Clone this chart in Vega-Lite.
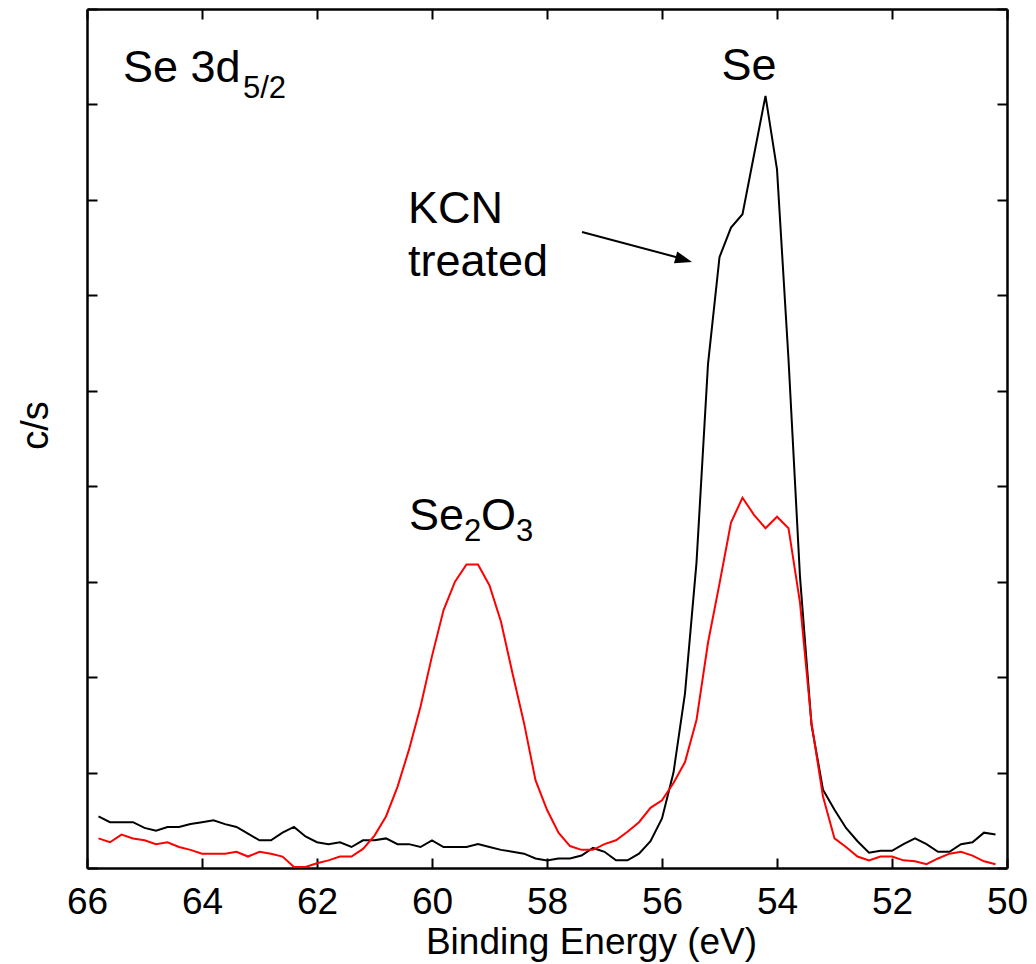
{
  "$schema": "https://vega.github.io/schema/vega-lite/v6.json",
  "width": 920,
  "height": 859,
  "autosize": {"type": "none"},
  "padding": {"left": 87, "top": 9, "right": 29, "bottom": 96},
  "background": "white",
  "config": {
    "font": "Liberation Sans",
    "view": {"stroke": null},
    "axis": {
      "domainColor": "#000000",
      "domainWidth": 2.5,
      "tickColor": "#000000",
      "tickWidth": 2,
      "tickSize": -10,
      "grid": false,
      "labelFont": "Liberation Sans",
      "labelColor": "#000000",
      "titleFont": "Liberation Sans",
      "titleColor": "#000000",
      "titleFontWeight": "normal"
    }
  },
  "datasets": {
    "spectra": [
      {"E": 65.8, "cps": 0.54, "sample": "KCN treated"},
      {"E": 65.6, "cps": 0.48, "sample": "KCN treated"},
      {"E": 65.4, "cps": 0.48, "sample": "KCN treated"},
      {"E": 65.2, "cps": 0.48, "sample": "KCN treated"},
      {"E": 65.0, "cps": 0.42, "sample": "KCN treated"},
      {"E": 64.8, "cps": 0.39, "sample": "KCN treated"},
      {"E": 64.6, "cps": 0.43, "sample": "KCN treated"},
      {"E": 64.4, "cps": 0.43, "sample": "KCN treated"},
      {"E": 64.2, "cps": 0.46, "sample": "KCN treated"},
      {"E": 64.0, "cps": 0.48, "sample": "KCN treated"},
      {"E": 63.8, "cps": 0.50, "sample": "KCN treated"},
      {"E": 63.6, "cps": 0.46, "sample": "KCN treated"},
      {"E": 63.4, "cps": 0.43, "sample": "KCN treated"},
      {"E": 63.2, "cps": 0.36, "sample": "KCN treated"},
      {"E": 63.0, "cps": 0.29, "sample": "KCN treated"},
      {"E": 62.8, "cps": 0.29, "sample": "KCN treated"},
      {"E": 62.6, "cps": 0.37, "sample": "KCN treated"},
      {"E": 62.4, "cps": 0.43, "sample": "KCN treated"},
      {"E": 62.2, "cps": 0.33, "sample": "KCN treated"},
      {"E": 62.0, "cps": 0.27, "sample": "KCN treated"},
      {"E": 61.8, "cps": 0.25, "sample": "KCN treated"},
      {"E": 61.6, "cps": 0.27, "sample": "KCN treated"},
      {"E": 61.4, "cps": 0.22, "sample": "KCN treated"},
      {"E": 61.2, "cps": 0.29, "sample": "KCN treated"},
      {"E": 61.0, "cps": 0.29, "sample": "KCN treated"},
      {"E": 60.8, "cps": 0.31, "sample": "KCN treated"},
      {"E": 60.6, "cps": 0.25, "sample": "KCN treated"},
      {"E": 60.4, "cps": 0.25, "sample": "KCN treated"},
      {"E": 60.2, "cps": 0.22, "sample": "KCN treated"},
      {"E": 60.0, "cps": 0.29, "sample": "KCN treated"},
      {"E": 59.8, "cps": 0.22, "sample": "KCN treated"},
      {"E": 59.6, "cps": 0.22, "sample": "KCN treated"},
      {"E": 59.4, "cps": 0.22, "sample": "KCN treated"},
      {"E": 59.2, "cps": 0.25, "sample": "KCN treated"},
      {"E": 59.0, "cps": 0.22, "sample": "KCN treated"},
      {"E": 58.8, "cps": 0.19, "sample": "KCN treated"},
      {"E": 58.6, "cps": 0.17, "sample": "KCN treated"},
      {"E": 58.4, "cps": 0.15, "sample": "KCN treated"},
      {"E": 58.2, "cps": 0.10, "sample": "KCN treated"},
      {"E": 58.0, "cps": 0.08, "sample": "KCN treated"},
      {"E": 57.8, "cps": 0.10, "sample": "KCN treated"},
      {"E": 57.6, "cps": 0.10, "sample": "KCN treated"},
      {"E": 57.4, "cps": 0.13, "sample": "KCN treated"},
      {"E": 57.2, "cps": 0.21, "sample": "KCN treated"},
      {"E": 57.0, "cps": 0.17, "sample": "KCN treated"},
      {"E": 56.8, "cps": 0.08, "sample": "KCN treated"},
      {"E": 56.6, "cps": 0.08, "sample": "KCN treated"},
      {"E": 56.4, "cps": 0.15, "sample": "KCN treated"},
      {"E": 56.2, "cps": 0.28, "sample": "KCN treated"},
      {"E": 56.0, "cps": 0.52, "sample": "KCN treated"},
      {"E": 55.8, "cps": 1.00, "sample": "KCN treated"},
      {"E": 55.6, "cps": 1.83, "sample": "KCN treated"},
      {"E": 55.4, "cps": 3.20, "sample": "KCN treated"},
      {"E": 55.2, "cps": 5.28, "sample": "KCN treated"},
      {"E": 55.0, "cps": 6.40, "sample": "KCN treated"},
      {"E": 54.8, "cps": 6.71, "sample": "KCN treated"},
      {"E": 54.6, "cps": 6.85, "sample": "KCN treated"},
      {"E": 54.4, "cps": 7.47, "sample": "KCN treated"},
      {"E": 54.2, "cps": 8.09, "sample": "KCN treated"},
      {"E": 54.0, "cps": 7.32, "sample": "KCN treated"},
      {"E": 53.8, "cps": 5.33, "sample": "KCN treated"},
      {"E": 53.6, "cps": 3.05, "sample": "KCN treated"},
      {"E": 53.4, "cps": 1.50, "sample": "KCN treated"},
      {"E": 53.2, "cps": 0.82, "sample": "KCN treated"},
      {"E": 53.0, "cps": 0.61, "sample": "KCN treated"},
      {"E": 52.8, "cps": 0.42, "sample": "KCN treated"},
      {"E": 52.6, "cps": 0.28, "sample": "KCN treated"},
      {"E": 52.4, "cps": 0.16, "sample": "KCN treated"},
      {"E": 52.2, "cps": 0.18, "sample": "KCN treated"},
      {"E": 52.0, "cps": 0.18, "sample": "KCN treated"},
      {"E": 51.8, "cps": 0.25, "sample": "KCN treated"},
      {"E": 51.6, "cps": 0.31, "sample": "KCN treated"},
      {"E": 51.4, "cps": 0.25, "sample": "KCN treated"},
      {"E": 51.2, "cps": 0.17, "sample": "KCN treated"},
      {"E": 51.0, "cps": 0.17, "sample": "KCN treated"},
      {"E": 50.8, "cps": 0.25, "sample": "KCN treated"},
      {"E": 50.6, "cps": 0.27, "sample": "KCN treated"},
      {"E": 50.4, "cps": 0.37, "sample": "KCN treated"},
      {"E": 50.2, "cps": 0.35, "sample": "KCN treated"},
      {"E": 65.8, "cps": 0.31, "sample": "untreated"},
      {"E": 65.6, "cps": 0.27, "sample": "untreated"},
      {"E": 65.4, "cps": 0.35, "sample": "untreated"},
      {"E": 65.2, "cps": 0.31, "sample": "untreated"},
      {"E": 65.0, "cps": 0.29, "sample": "untreated"},
      {"E": 64.8, "cps": 0.25, "sample": "untreated"},
      {"E": 64.6, "cps": 0.27, "sample": "untreated"},
      {"E": 64.4, "cps": 0.22, "sample": "untreated"},
      {"E": 64.2, "cps": 0.19, "sample": "untreated"},
      {"E": 64.0, "cps": 0.15, "sample": "untreated"},
      {"E": 63.8, "cps": 0.15, "sample": "untreated"},
      {"E": 63.6, "cps": 0.15, "sample": "untreated"},
      {"E": 63.4, "cps": 0.17, "sample": "untreated"},
      {"E": 63.2, "cps": 0.12, "sample": "untreated"},
      {"E": 63.0, "cps": 0.17, "sample": "untreated"},
      {"E": 62.8, "cps": 0.15, "sample": "untreated"},
      {"E": 62.6, "cps": 0.12, "sample": "untreated"},
      {"E": 62.4, "cps": 0.01, "sample": "untreated"},
      {"E": 62.2, "cps": 0.01, "sample": "untreated"},
      {"E": 62.0, "cps": 0.05, "sample": "untreated"},
      {"E": 61.8, "cps": 0.08, "sample": "untreated"},
      {"E": 61.6, "cps": 0.12, "sample": "untreated"},
      {"E": 61.4, "cps": 0.12, "sample": "untreated"},
      {"E": 61.2, "cps": 0.20, "sample": "untreated"},
      {"E": 61.0, "cps": 0.34, "sample": "untreated"},
      {"E": 60.8, "cps": 0.54, "sample": "untreated"},
      {"E": 60.6, "cps": 0.85, "sample": "untreated"},
      {"E": 60.4, "cps": 1.24, "sample": "untreated"},
      {"E": 60.2, "cps": 1.69, "sample": "untreated"},
      {"E": 60.0, "cps": 2.22, "sample": "untreated"},
      {"E": 59.8, "cps": 2.70, "sample": "untreated"},
      {"E": 59.6, "cps": 3.00, "sample": "untreated"},
      {"E": 59.4, "cps": 3.18, "sample": "untreated"},
      {"E": 59.2, "cps": 3.18, "sample": "untreated"},
      {"E": 59.0, "cps": 2.96, "sample": "untreated"},
      {"E": 58.8, "cps": 2.58, "sample": "untreated"},
      {"E": 58.6, "cps": 2.04, "sample": "untreated"},
      {"E": 58.4, "cps": 1.52, "sample": "untreated"},
      {"E": 58.2, "cps": 0.92, "sample": "untreated"},
      {"E": 58.0, "cps": 0.61, "sample": "untreated"},
      {"E": 57.8, "cps": 0.37, "sample": "untreated"},
      {"E": 57.6, "cps": 0.23, "sample": "untreated"},
      {"E": 57.4, "cps": 0.19, "sample": "untreated"},
      {"E": 57.2, "cps": 0.19, "sample": "untreated"},
      {"E": 57.0, "cps": 0.25, "sample": "untreated"},
      {"E": 56.8, "cps": 0.29, "sample": "untreated"},
      {"E": 56.6, "cps": 0.38, "sample": "untreated"},
      {"E": 56.4, "cps": 0.48, "sample": "untreated"},
      {"E": 56.2, "cps": 0.63, "sample": "untreated"},
      {"E": 56.0, "cps": 0.71, "sample": "untreated"},
      {"E": 55.8, "cps": 0.89, "sample": "untreated"},
      {"E": 55.6, "cps": 1.11, "sample": "untreated"},
      {"E": 55.4, "cps": 1.55, "sample": "untreated"},
      {"E": 55.2, "cps": 2.36, "sample": "untreated"},
      {"E": 55.0, "cps": 2.98, "sample": "untreated"},
      {"E": 54.8, "cps": 3.62, "sample": "untreated"},
      {"E": 54.6, "cps": 3.88, "sample": "untreated"},
      {"E": 54.4, "cps": 3.70, "sample": "untreated"},
      {"E": 54.2, "cps": 3.56, "sample": "untreated"},
      {"E": 54.0, "cps": 3.68, "sample": "untreated"},
      {"E": 53.8, "cps": 3.56, "sample": "untreated"},
      {"E": 53.6, "cps": 2.78, "sample": "untreated"},
      {"E": 53.4, "cps": 1.52, "sample": "untreated"},
      {"E": 53.2, "cps": 0.75, "sample": "untreated"},
      {"E": 53.0, "cps": 0.31, "sample": "untreated"},
      {"E": 52.8, "cps": 0.22, "sample": "untreated"},
      {"E": 52.6, "cps": 0.12, "sample": "untreated"},
      {"E": 52.4, "cps": 0.08, "sample": "untreated"},
      {"E": 52.2, "cps": 0.12, "sample": "untreated"},
      {"E": 52.0, "cps": 0.12, "sample": "untreated"},
      {"E": 51.8, "cps": 0.08, "sample": "untreated"},
      {"E": 51.6, "cps": 0.07, "sample": "untreated"},
      {"E": 51.4, "cps": 0.04, "sample": "untreated"},
      {"E": 51.2, "cps": 0.10, "sample": "untreated"},
      {"E": 51.0, "cps": 0.15, "sample": "untreated"},
      {"E": 50.8, "cps": 0.17, "sample": "untreated"},
      {"E": 50.6, "cps": 0.13, "sample": "untreated"},
      {"E": 50.4, "cps": 0.07, "sample": "untreated"},
      {"E": 50.2, "cps": 0.04, "sample": "untreated"}
    ],
    "notes": [
      {"E": 65.374, "cps": 8.235, "text": "Se 3d", "kind": "label"},
      {"E": 63.287, "cps": 8.068, "text": "5/2", "kind": "subscript"},
      {"E": 54.487, "cps": 8.256, "text": "Se", "kind": "peak"},
      {"E": 60.417, "cps": 6.758, "text": "KCN", "kind": "label"},
      {"E": 60.417, "cps": 6.203, "text": "treated", "kind": "label"},
      {"E": 60.4, "cps": 3.541, "text": "Se", "kind": "label"},
      {"E": 59.443, "cps": 3.426, "text": "2", "kind": "subscript"},
      {"E": 59.148, "cps": 3.541, "text": "O", "kind": "label"},
      {"E": 58.539, "cps": 3.426, "text": "3", "kind": "subscript"}
    ],
    "arrow": [
      {"E": 57.391, "cps": 6.664, "E2": 55.6, "cps2": 6.376}
    ],
    "arrowhead": [
      {"E": 55.478, "cps": 6.35}
    ]
  },
  "resolve": {"axis": {"x": "independent", "y": "independent"}},
  "layer": [
    {
      "data": {"name": "spectra"},
      "transform": [{"filter": "datum.sample === 'KCN treated'"}],
      "mark": {"type": "line", "color": "#000000", "strokeWidth": 2},
      "encoding": {
        "x": {
          "field": "E", "type": "quantitative",
          "scale": {"domain": [50, 66], "reverse": true, "nice": false, "zero": false},
          "axis": {
            "orient": "bottom", "values": [50, 52, 54, 56, 58, 60, 62, 64, 66],
            "labelFontSize": 37, "labelPadding": 26, "labelFlush": false, "labelOverlap": false, "labelDx": 5,
            "title": "Binding Energy (eV)", "titleFontSize": 37,
            "titleX": 504, "titleY": 85, "titleAlign": "center", "titleBaseline": "alphabetic", "titleAnchor": null
          }
        },
        "y": {
          "field": "cps", "type": "quantitative",
          "scale": {"domain": [0, 9], "nice": false, "zero": false},
          "axis": {
            "orient": "left", "values": [0, 1, 2, 3, 4, 5, 6, 7, 8, 9], "labels": false,
            "title": "c/s", "titleFontSize": 38, "titleAngle": -90,
            "titleX": -40, "titleY": 416, "titleAlign": "center", "titleBaseline": "alphabetic", "titleAnchor": null
          }
        }
      }
    },
    {
      "data": {"name": "spectra"},
      "transform": [{"filter": "datum.sample === 'untreated'"}],
      "mark": {"type": "line", "color": "#ff0000", "strokeWidth": 2},
      "encoding": {
        "x": {
          "field": "E", "type": "quantitative",
          "scale": {"domain": [50, 66], "reverse": true, "nice": false, "zero": false},
          "axis": {"orient": "top", "values": [50, 52, 54, 56, 58, 60, 62, 64, 66], "labels": false, "title": null}
        },
        "y": {
          "field": "cps", "type": "quantitative",
          "scale": {"domain": [0, 9], "nice": false, "zero": false},
          "axis": {"orient": "right", "values": [0, 1, 2, 3, 4, 5, 6, 7, 8, 9], "labels": false, "title": null}
        }
      }
    },
    {
      "data": {"name": "arrow"},
      "mark": {"type": "rule", "color": "#000000", "strokeWidth": 2},
      "encoding": {
        "x": {"field": "E", "type": "quantitative", "axis": null},
        "y": {"field": "cps", "type": "quantitative", "axis": null},
        "x2": {"field": "E2"},
        "y2": {"field": "cps2"}
      }
    },
    {
      "data": {"name": "arrowhead"},
      "mark": {"type": "point", "shape": "M0,0L-1,-0.36L-1,0.36Z", "filled": true, "color": "#000000", "opacity": 1, "size": 1156, "angle": 15.26, "strokeWidth": 0},
      "encoding": {
        "x": {"field": "E", "type": "quantitative", "axis": null},
        "y": {"field": "cps", "type": "quantitative", "axis": null}
      }
    },
    {
      "data": {"name": "notes"},
      "transform": [{"filter": "datum.kind === 'label'"}],
      "mark": {"type": "text", "fontSize": 45, "align": "left", "baseline": "alphabetic", "color": "#000000", "font": "Liberation Sans"},
      "encoding": {
        "x": {"field": "E", "type": "quantitative", "axis": null},
        "y": {"field": "cps", "type": "quantitative", "axis": null},
        "text": {"field": "text"}
      }
    },
    {
      "data": {"name": "notes"},
      "transform": [{"filter": "datum.kind === 'subscript'"}],
      "mark": {"type": "text", "fontSize": 31, "align": "left", "baseline": "alphabetic", "color": "#000000", "font": "Liberation Sans"},
      "encoding": {
        "x": {"field": "E", "type": "quantitative", "axis": null},
        "y": {"field": "cps", "type": "quantitative", "axis": null},
        "text": {"field": "text"}
      }
    },
    {
      "data": {"name": "notes"},
      "transform": [{"filter": "datum.kind === 'peak'"}],
      "mark": {"type": "text", "fontSize": 45, "align": "center", "baseline": "alphabetic", "color": "#000000", "font": "Liberation Sans"},
      "encoding": {
        "x": {"field": "E", "type": "quantitative", "axis": null},
        "y": {"field": "cps", "type": "quantitative", "axis": null},
        "text": {"field": "text"}
      }
    }
  ]
}
